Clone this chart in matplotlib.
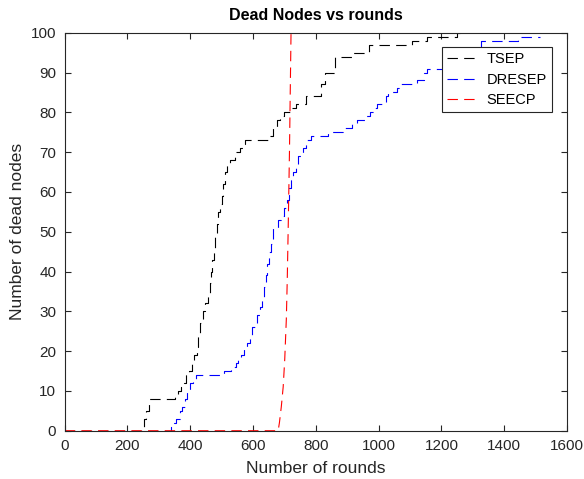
import matplotlib
matplotlib.use('Agg')
import matplotlib.pyplot as plt

plt.rcParams['font.family'] = ['Liberation Sans', 'DejaVu Sans']
plt.rcParams['lines.scale_dashes'] = False

# dead nodes vs rounds (step curves)
tsep_rounds = [0, 245, 252, 260, 270, 352, 362, 370, 380, 386, 395, 404, 412, 420, 426, 432,
               440, 448, 455, 462, 466, 470, 476, 480, 484, 489, 494, 500, 504, 510, 518, 528,
               542, 558, 568, 575, 650, 662, 676, 685, 700, 722, 736, 768, 815, 830, 860,
               918, 970, 1106, 1155, 1250, 1260]
tsep_nodes = [0, 1, 3, 5, 8, 9, 10, 11, 12, 14, 15, 17, 19, 21, 24, 27,
              30, 32, 34, 37, 40, 43, 46, 49, 52, 55, 57, 59, 62, 65, 67, 68,
              70, 71, 72, 73, 74, 76, 78, 79, 80, 81, 82, 84, 87, 90, 94,
              95, 97, 98, 99, 100, 100]

dresep_rounds = [0, 340, 348, 356, 366, 374, 382, 390, 398, 408, 418, 508, 530, 545, 552, 562,
                 572, 582, 590, 598, 606, 614, 622, 630, 636, 642, 646, 650, 656, 664, 678,
                 690, 700, 708, 716, 722, 728, 738, 744, 758, 768, 786, 838, 885, 915, 930,
                 960, 972, 985, 995, 1025, 1030, 1058, 1066, 1122, 1145, 1155, 1212, 1240,
                 1268, 1295, 1318, 1325, 1445, 1515]
dresep_nodes = [0, 1, 2, 3, 5, 6, 8, 10, 12, 13, 14, 15, 16, 17, 18, 19,
                21, 22, 24, 26, 27, 29, 31, 33, 36, 39, 42, 45, 47, 51, 53,
                54, 56, 58, 61, 63, 65, 67, 69, 71, 73, 74, 75, 76, 77, 78,
                79, 80, 81, 82, 84, 85, 86, 87, 88, 90, 91, 92, 93, 94, 95, 96, 98, 99, 99]

seecp_rounds = [0, 680, 684, 690, 696, 701, 706, 709, 712, 716, 719, 721]
seecp_nodes = [0, 0, 2, 6, 11, 18, 28, 38, 51, 70, 88, 100]

fig = plt.figure(figsize=(5.84, 4.79), dpi=100)
ax = fig.add_axes([0.1108, 0.1008, 0.86, 0.8309])

dash = (7.5, 4.5)
ax.plot(tsep_rounds, tsep_nodes, color='black', lw=0.8, linestyle=(0, dash),
        drawstyle='steps-post', label='TSEP')
ax.plot(dresep_rounds, dresep_nodes, color='blue', lw=0.8, linestyle=(0, dash),
        drawstyle='steps-post', label='DRESEP')
ax.plot(seecp_rounds, seecp_nodes, color='red', lw=0.8, linestyle=(0, dash),
        label='SEECP')

ax.set_xlim(0, 1600)
ax.set_ylim(0, 100)
ax.set_xticks(range(0, 1601, 200))
ax.set_yticks(range(0, 101, 10))
ax.tick_params(direction='in', top=True, right=True, length=4, width=0.8,
               labelsize=11, colors='#262626', pad=6)
for s in ax.spines.values():
    s.set_color('#262626')
    s.set_linewidth(0.8)

ax.set_title('Dead Nodes vs rounds', fontsize=11.5, fontweight='bold', pad=9)
ax.set_xlabel('Number of rounds', fontsize=12.5, color='#262626', labelpad=6)
ax.set_ylabel('Number of dead nodes', fontsize=12.5, color='#262626')

leg = ax.legend(loc='upper right', bbox_to_anchor=(0.970, 0.964), fontsize=10.5,
                fancybox=False, framealpha=1, edgecolor='#262626',
                handlelength=2.0, handletextpad=0.7, borderpad=0.35,
                borderaxespad=0, labelspacing=0.45)
leg.get_frame().set_linewidth(0.8)

fig.savefig('out.png', dpi=100)
